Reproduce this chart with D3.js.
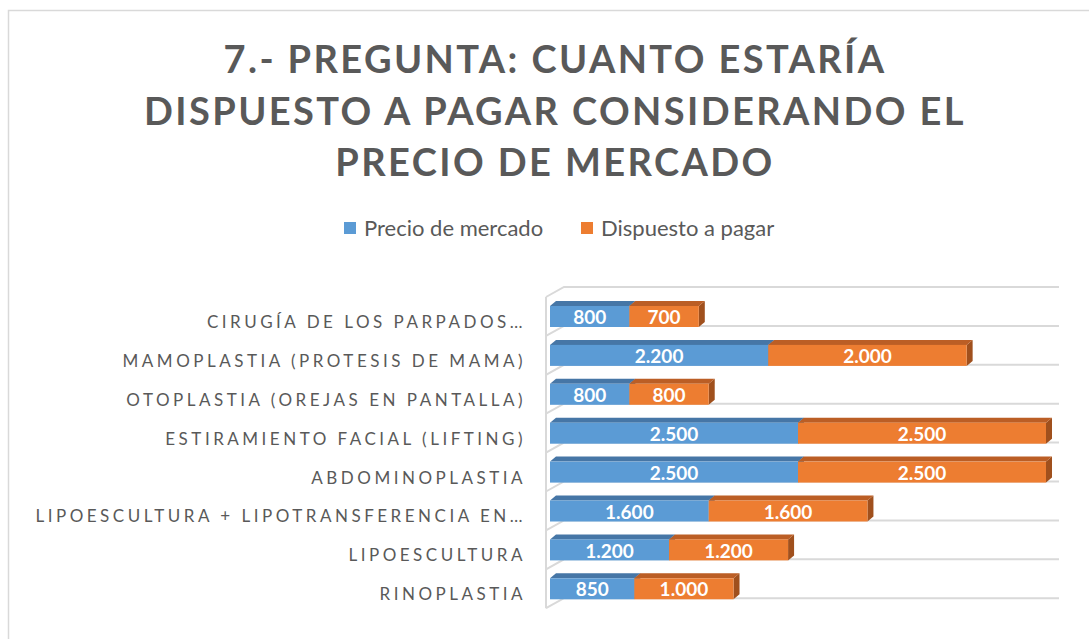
<!DOCTYPE html>
<html>
<head>
<meta charset="utf-8">
<script src="https://cdn.jsdelivr.net/npm/d3@7"></script>
<style>
  body { margin: 0; background: #fff; }
  svg { display: block; font-family: Lato, "Open Sans", sans-serif; }
</style>
</head>
<body>
<div id="grafico"></div>
<script>
// Datos
const categorias = [
  "CIRUGÍA DE LOS PARPADOS…",
  "MAMOPLASTIA (PROTESIS DE MAMA)",
  "OTOPLASTIA (OREJAS EN PANTALLA)",
  "ESTIRAMIENTO FACIAL (LIFTING)",
  "ABDOMINOPLASTIA",
  "LIPOESCULTURA + LIPOTRANSFERENCIA EN…",
  "LIPOESCULTURA",
  "RINOPLASTIA"
];
const precioMercado = [800, 2200, 800, 2500, 2500, 1600, 1200, 850];
const dispuestoPagar = [700, 2000, 800, 2500, 2500, 1600, 1200, 1000];
const series = ["Precio de mercado", "Dispuesto a pagar"];
const titulo = ["7.- PREGUNTA: CUANTO ESTARÍA", "DISPUESTO A PAGAR CONSIDERANDO EL", "PRECIO DE MERCADO"];

// Dimensiones
const ancho = 1089;
const alto = 639;
const colores = { frente: ["#5b9bd5", "#ed7d31"], arriba: ["#4676a6", "#bb5e25"], lado: ["#3f6c98", "#a0501d"] };
const prof = { dx: 6, dy: 5 };       // profundidad de las barras
const pared = { dx: 18, dy: 10 };    // profundidad de la pared izquierda

const svg = d3.select("#grafico")
  .append("svg")
  .attr("width", ancho)
  .attr("height", alto);

// Borde del área del gráfico
svg.append("rect")
  .attr("x", 8.5).attr("y", 10.5)
  .attr("width", ancho + 20).attr("height", alto + 20)
  .attr("fill", "none")
  .attr("stroke", "#d9d9d9")
  .attr("stroke-width", 1.5);

// Título
svg.append("g").selectAll("text")
  .data(titulo)
  .enter()
  .append("text")
  .attr("x", 555)
  .attr("y", (d, i) => 73 + i * 51.5)
  .attr("text-anchor", "middle")
  .attr("font-size", 38)
  .attr("font-weight", 700)
  .attr("letter-spacing", 2.4)
  .attr("fill", "#595959")
  .text(d => d);

// Leyenda
const leyendaX = [344, 581];
const leyenda = svg.append("g").selectAll("g")
  .data(series)
  .enter()
  .append("g")
  .attr("transform", (d, i) => `translate(${leyendaX[i]},222)`);
leyenda.append("rect")
  .attr("width", 12).attr("height", 12)
  .attr("fill", (d, i) => colores.frente[i]);
leyenda.append("text")
  .attr("x", 20).attr("y", 6)
  .attr("dy", "0.35em")
  .attr("font-size", 22)
  .attr("fill", "#595959")
  .text(d => d);

// Escalas
const escalaX = d3.scaleLinear().domain([0, 5000]).range([550, 1046]);
const escalaY = d3.scaleBand().domain(categorias).range([287, 287 + 8 * 38.9]).padding(0);
const paso = escalaY.step();
const formato = d3.formatLocale({ decimal: ",", thousands: ".", grouping: [3], currency: ["$", ""] }).format(",");

// Pared izquierda y líneas de división
const limites = d3.range(categorias.length + 1).map(i => escalaY.range()[0] + i * paso);
const pisos = svg.append("g").attr("stroke", "#d9d9d9").attr("stroke-width", 2).attr("fill", "none");
pisos.selectAll("path")
  .data(limites)
  .enter()
  .append("path")
  .attr("d", y => `M${546},${y + pared.dy}L${546 + pared.dx},${y}L${escalaX(5000) + 13},${y}`);
pisos.append("line")
  .attr("x1", 546).attr("x2", 546)
  .attr("y1", limites[0] + pared.dy)
  .attr("y2", limites[limites.length - 1] + pared.dy);

// Barras apiladas
const filas = categorias.map((c, i) => ({ categoria: c, valores: [precioMercado[i], dispuestoPagar[i]] }));
const segmentos = [];
filas.forEach(f => {
  let acumulado = 0;
  f.valores.forEach((v, s) => {
    segmentos.push({ categoria: f.categoria, serie: s, valor: v, x0: acumulado, x1: acumulado + v });
    acumulado += v;
  });
});

const barras = svg.append("g").selectAll("g")
  .data(segmentos)
  .enter()
  .append("g");

const yFrente = d => escalaY(d.categoria) + 19;
const altoBarra = 21;

barras.append("path")
  .attr("fill", d => colores.lado[d.serie])
  .attr("d", d => {
    const x = escalaX(d.x1), y = yFrente(d);
    return `M${x},${y}L${x + prof.dx},${y - prof.dy}L${x + prof.dx},${y + altoBarra - prof.dy}L${x},${y + altoBarra}Z`;
  });
barras.append("path")
  .attr("fill", d => colores.arriba[d.serie])
  .attr("d", d => {
    const a = escalaX(d.x0), b = escalaX(d.x1), y = yFrente(d);
    return `M${a},${y}L${b},${y}L${b + prof.dx},${y - prof.dy}L${a + prof.dx},${y - prof.dy}Z`;
  });
barras.append("rect")
  .attr("x", d => escalaX(d.x0))
  .attr("y", d => yFrente(d))
  .attr("width", d => escalaX(d.x1) - escalaX(d.x0))
  .attr("height", altoBarra)
  .attr("fill", d => colores.frente[d.serie]);
barras.append("text")
  .attr("x", d => (escalaX(d.x0) + escalaX(d.x1)) / 2)
  .attr("y", d => yFrente(d) + altoBarra / 2 + 1)
  .attr("dy", "0.35em")
  .attr("text-anchor", "middle")
  .attr("font-size", 19)
  .attr("font-weight", 700)
  .attr("fill", "#fff")
  .text(d => formato(d.valor));

// Etiquetas de categorías
svg.append("g").selectAll("text")
  .data(categorias)
  .enter()
  .append("text")
  .attr("x", 526)
  .attr("y", d => escalaY(d) + 35)
  .attr("dy", "0.35em")
  .attr("text-anchor", "end")
  .attr("font-size", 17)
  .attr("letter-spacing", 3.5)
  .attr("fill", "#595959")
  .text(d => d);
</script>
</body>
</html>
